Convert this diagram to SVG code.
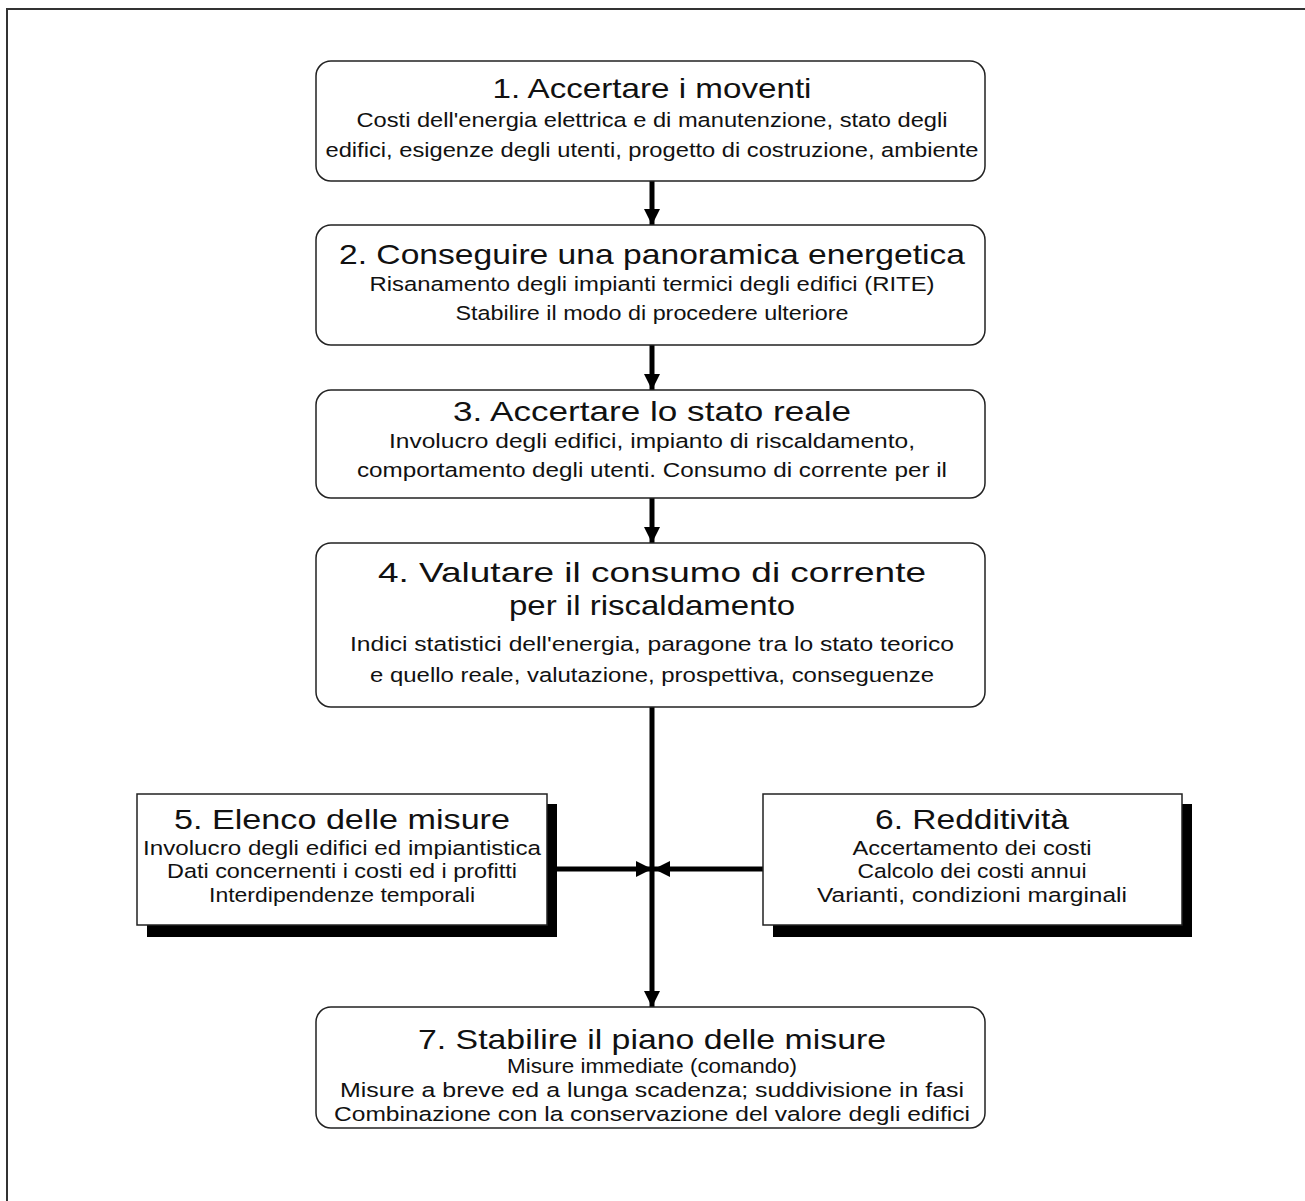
<svg xmlns="http://www.w3.org/2000/svg" width="1305" height="1201" viewBox="0 0 1305 1201">
  <style>
    .frame { fill: none; stroke: #333; stroke-width: 2; }
    .box { fill: #fff; stroke: #222; stroke-width: 1.5; }
    .shadow { fill: #000; }
    .title { font-family: "Liberation Sans", Arial, sans-serif; font-size: 28px; fill: #111; text-anchor: middle; }
    .body { font-family: "Liberation Sans", Arial, sans-serif; font-size: 20.5px; fill: #111; text-anchor: middle; }
    .wire { stroke: #000; stroke-width: 5; fill: none; }
  </style>
  <defs>
    <marker id="head" viewBox="0 0 10 10" refX="10" refY="5" markerWidth="4.6" markerHeight="3.2" markerUnits="strokeWidth" orient="auto">
      <path d="M0,0 L10,5 L0,10 Z" fill="#000"/>
    </marker>
  </defs>
  <rect width="1305" height="1201" fill="#fff"/>
  <!-- page frame: top and left rules only -->
  <path class="frame" d="M7,1201 V9 H1305"/>

  <g id="connectors">
    <line class="wire" x1="652" y1="181" x2="652" y2="225" marker-end="url(#head)"/>
    <line class="wire" x1="652" y1="345" x2="652" y2="390" marker-end="url(#head)"/>
    <line class="wire" x1="652" y1="498" x2="652" y2="543" marker-end="url(#head)"/>
    <line class="wire" x1="652" y1="707" x2="652" y2="1007" marker-end="url(#head)"/>
    <line class="wire" x1="557" y1="869" x2="652" y2="869" marker-end="url(#head)"/>
    <line class="wire" x1="763" y1="869" x2="654" y2="869" marker-end="url(#head)"/>
  </g>

  <g id="step1">
    <rect class="box" x="316" y="61" width="669" height="120" rx="15"/>
    <text class="title" x="652" y="98" textLength="319" lengthAdjust="spacingAndGlyphs">1. Accertare i moventi</text>
    <text class="body" x="652" y="127" textLength="591" lengthAdjust="spacingAndGlyphs">Costi dell'energia elettrica e di manutenzione, stato degli</text>
    <text class="body" x="652" y="157" textLength="653" lengthAdjust="spacingAndGlyphs">edifici, esigenze degli utenti, progetto di costruzione, ambiente</text>
  </g>

  <g id="step2">
    <rect class="box" x="316" y="225" width="669" height="120" rx="15"/>
    <text class="title" x="652" y="264" textLength="626" lengthAdjust="spacingAndGlyphs">2. Conseguire una panoramica energetica</text>
    <text class="body" x="652" y="291" textLength="565" lengthAdjust="spacingAndGlyphs">Risanamento degli impianti termici degli edifici (RITE)</text>
    <text class="body" x="652" y="320" textLength="393" lengthAdjust="spacingAndGlyphs">Stabilire il modo di procedere ulteriore</text>
  </g>

  <g id="step3">
    <rect class="box" x="316" y="390" width="669" height="108" rx="15"/>
    <text class="title" x="652" y="421" textLength="398" lengthAdjust="spacingAndGlyphs">3. Accertare lo stato reale</text>
    <text class="body" x="652" y="448" textLength="526" lengthAdjust="spacingAndGlyphs">Involucro degli edifici, impianto di riscaldamento,</text>
    <text class="body" x="652" y="477" textLength="590" lengthAdjust="spacingAndGlyphs">comportamento degli utenti. Consumo di corrente per il</text>
  </g>

  <g id="step4">
    <rect class="box" x="316" y="543" width="669" height="164" rx="15"/>
    <text class="title" x="652" y="582" textLength="548" lengthAdjust="spacingAndGlyphs">4. Valutare il consumo di corrente</text>
    <text class="title" x="652" y="615" textLength="286" lengthAdjust="spacingAndGlyphs">per il riscaldamento</text>
    <text class="body" x="652" y="651" textLength="604" lengthAdjust="spacingAndGlyphs">Indici statistici dell'energia, paragone tra lo stato teorico</text>
    <text class="body" x="652" y="682" textLength="564" lengthAdjust="spacingAndGlyphs">e quello reale, valutazione, prospettiva, conseguenze</text>
  </g>

  <g id="step5">
    <rect class="shadow" x="147" y="804" width="410" height="133"/>
    <rect class="box" x="137" y="794" width="410" height="131"/>
    <text class="title" x="342" y="829" textLength="336" lengthAdjust="spacingAndGlyphs">5. Elenco delle misure</text>
    <text class="body" x="342" y="855" textLength="398" lengthAdjust="spacingAndGlyphs">Involucro degli edifici ed impiantistica</text>
    <text class="body" x="342" y="878" textLength="350" lengthAdjust="spacingAndGlyphs">Dati concernenti i costi ed i profitti</text>
    <text class="body" x="342" y="902" textLength="266" lengthAdjust="spacingAndGlyphs">Interdipendenze temporali</text>
  </g>

  <g id="step6">
    <rect class="shadow" x="773" y="804" width="419" height="133"/>
    <rect class="box" x="763" y="794" width="419" height="131"/>
    <text class="title" x="972" y="829" textLength="194" lengthAdjust="spacingAndGlyphs">6. Redditività</text>
    <text class="body" x="972" y="855" textLength="239" lengthAdjust="spacingAndGlyphs">Accertamento dei costi</text>
    <text class="body" x="972" y="878" textLength="229" lengthAdjust="spacingAndGlyphs">Calcolo dei costi annui</text>
    <text class="body" x="972" y="902" textLength="310" lengthAdjust="spacingAndGlyphs">Varianti, condizioni marginali</text>
  </g>

  <g id="step7">
    <rect class="box" x="316" y="1007" width="669" height="121" rx="15"/>
    <text class="title" x="652" y="1049" textLength="468" lengthAdjust="spacingAndGlyphs">7. Stabilire il piano delle misure</text>
    <text class="body" x="652" y="1073" textLength="290" lengthAdjust="spacingAndGlyphs">Misure immediate (comando)</text>
    <text class="body" x="652" y="1097" textLength="624" lengthAdjust="spacingAndGlyphs">Misure a breve ed a lunga scadenza; suddivisione in fasi</text>
    <text class="body" x="652" y="1121" textLength="636" lengthAdjust="spacingAndGlyphs">Combinazione con la conservazione del valore degli edifici</text>
  </g>
</svg>
